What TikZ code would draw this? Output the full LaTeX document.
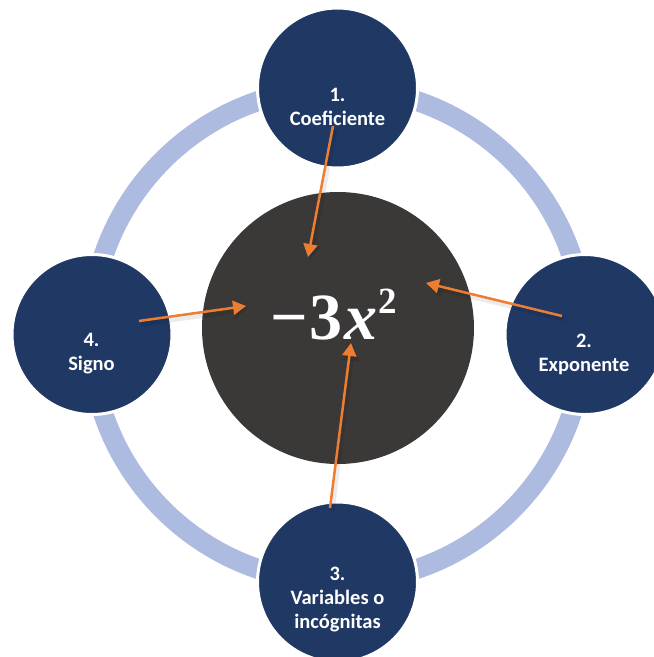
\documentclass[tikz,border=0pt]{standalone}
\usepackage{fontspec}
\newfontfamily\labelfont{Carlito}
\newfontfamily\exprfont{Liberation Serif}
\usetikzlibrary{arrows.meta}
\definecolor{ringblue}{HTML}{ADBBE0}
\definecolor{navyblue}{HTML}{1F3864}
\definecolor{coregray}{HTML}{3B3838}
\definecolor{arroworange}{HTML}{ED7D31}
\begin{document}
\begin{tikzpicture}[x=1pt,y=-1pt,
  ringpath/.style={draw=ringblue, line width=20pt},
  satellite/.style={circle, fill=navyblue, draw=white, line width=3pt, minimum size=160pt, inner sep=0pt},
  coredisc/.style={circle, fill=coregray, minimum size=272pt, inner sep=0pt},
  satlabel/.style={text=white, align=center, font=\labelfont\bfseries\fontsize{20.5}{24}\selectfont, inner sep=0pt},
  arrowline/.style={draw=arroworange, line width=2.5pt, -{Triangle[length=13pt,width=14pt]}},
  arrowshade/.style={draw=black, opacity=0.08, line width=5pt, -{Triangle[length=15pt,width=17pt]}}]
\useasboundingbox (0,0) rectangle (654,657);
\clip (0,0) rectangle (654,657);
\draw[ringpath] (337.5,335) circle[radius=247];
\node[coredisc] (c) at (338,328) {};
\node[satellite] (s1) at (337.5,88) {};
\node[satellite] (s2) at (585,334.5) {};
\node[satellite] (s3) at (337.5,582) {};
\node[satellite] (s4) at (92,334.5) {};
\node[text=white, inner sep=0pt, anchor=base] (expr) at (334,339)
  {\exprfont\bfseries\fontsize{66}{66}\selectfont −\kern1pt3\kern2pt\textit{x}\kern1pt\raisebox{26pt}{\fontsize{37}{37}\selectfont 2}};
\node[satlabel] (l1) at (337.5,107) {1.\\Coeficiente};
\node[satlabel] (l2) at (584,354) {2.\\Exponente};
\node[satlabel] (l3) at (337.5,600) {3.\\Variables o\\incógnitas};
\node[satlabel] (l4) at (91.5,354) {4.\\Signo};
\coordinate (a1s) at (333,126); \coordinate (a1e) at (308,257);
\coordinate (a2s) at (562,316); \coordinate (a2e) at (426,283);
\coordinate (a3s) at (330,508); \coordinate (a3e) at (351,343);
\coordinate (a4s) at (139,321); \coordinate (a4e) at (246,306);
\foreach \a in {1,2,3,4}{
  \draw[arrowshade] ([xshift=2pt,yshift=-3pt]a\a s) -- ([xshift=2pt,yshift=-3pt]a\a e);
}
\draw[arrowline] (a1s) -- (a1e);
\draw[arrowline] (a2s) -- (a2e);
\draw[arrowline] (a3s) -- (a3e);
\draw[arrowline] (a4s) -- (a4e);
\end{tikzpicture}
\end{document}
